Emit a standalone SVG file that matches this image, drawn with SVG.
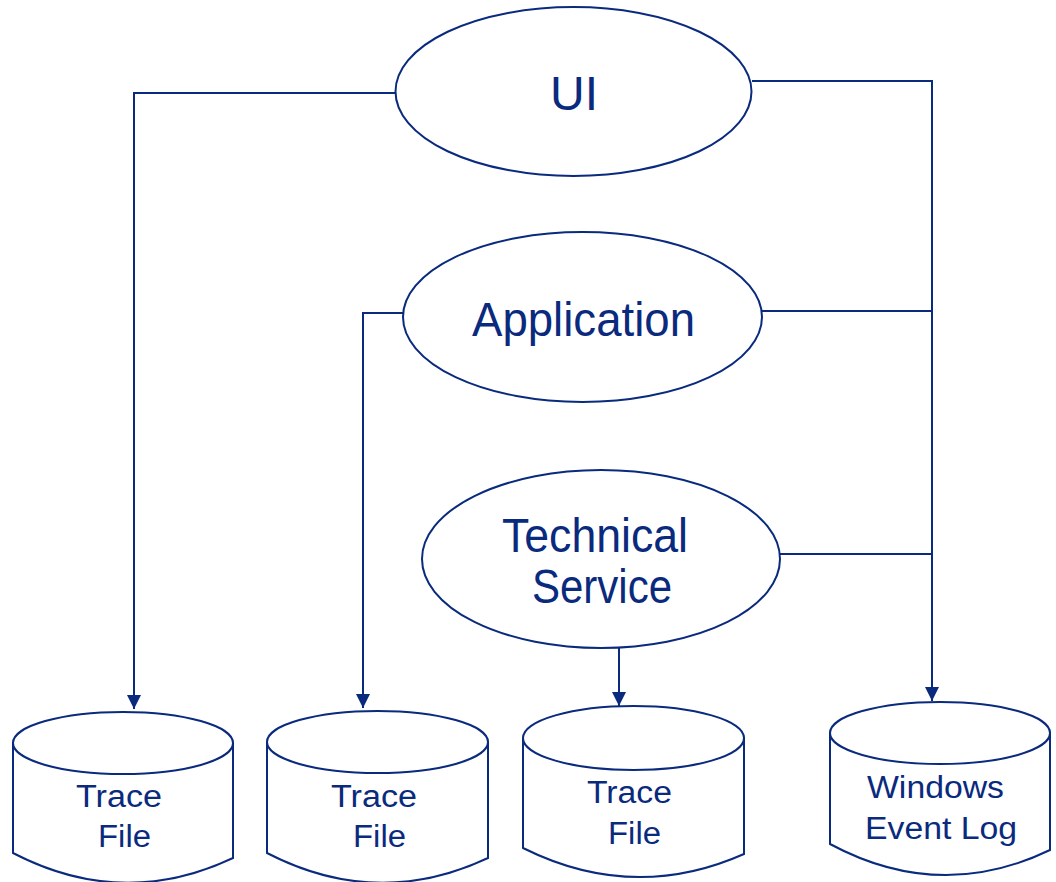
<svg xmlns="http://www.w3.org/2000/svg" width="1056" height="882" viewBox="0 0 1056 882">
<defs>
<style>
.shape{fill:#fff;stroke:#0a2a7e;stroke-width:2}
.conn{fill:none;stroke:#0a2a7e;stroke-width:2}
.t{font-family:"Liberation Sans",Arial,sans-serif;fill:#0a2a7e;text-anchor:middle}
.big{font-size:48px}
.small{font-size:31px}
</style>
<marker id="arr" markerUnits="userSpaceOnUse" markerWidth="14" markerHeight="14" refX="14" refY="7" orient="auto">
<path d="M0,0 L14,7 L0,14 Z" fill="#0a2a7e"/>
</marker>
</defs>
<rect width="1056" height="882" fill="#fff"/>
<g id="connectors">
<polyline class="conn" points="395,93 134,93 134,709" marker-end="url(#arr)"/>
<polyline class="conn" points="752,81 932,81 932,701" marker-end="url(#arr)"/>
<polyline class="conn" points="407,313 363,313 363,708" marker-end="url(#arr)"/>
<polyline class="conn" points="762,311 932,311"/>
<polyline class="conn" points="780,554 932,554"/>
<polyline class="conn" points="619,648 619,706" marker-end="url(#arr)"/>
</g>
<g id="ui">
<ellipse class="shape" cx="573.5" cy="91.5" rx="178" ry="84.5"/>
<text class="t big" x="574" y="110">UI</text>
</g>
<g id="application">
<ellipse class="shape" cx="582.5" cy="317" rx="179.5" ry="85"/>
<text class="t big" x="583.5" y="336" textLength="223" lengthAdjust="spacingAndGlyphs">Application</text>
</g>
<g id="technical-service">
<ellipse class="shape" cx="601" cy="559" rx="179" ry="89"/>
<text class="t big" x="595" y="552" textLength="186" lengthAdjust="spacingAndGlyphs">Technical</text>
<text class="t big" x="602" y="603" textLength="140" lengthAdjust="spacingAndGlyphs">Service</text>
</g>
<g id="trace-file-1">
<path class="shape" d="M13,743 L13,853 Q123,910 233,858 L233,743 Z"/>
<ellipse class="shape" cx="123" cy="743" rx="110" ry="31"/>
<text class="t small" x="119" y="807" textLength="86" lengthAdjust="spacingAndGlyphs">Trace</text>
<text class="t small" x="124.5" y="847" textLength="53" lengthAdjust="spacingAndGlyphs">File</text>
</g>
<g id="trace-file-2">
<path class="shape" d="M267,742 L267,853 Q377.5,910 488,858 L488,742 Z"/>
<ellipse class="shape" cx="377.5" cy="742" rx="110.5" ry="31"/>
<text class="t small" x="374" y="807" textLength="86" lengthAdjust="spacingAndGlyphs">Trace</text>
<text class="t small" x="379.5" y="847" textLength="53" lengthAdjust="spacingAndGlyphs">File</text>
</g>
<g id="trace-file-3">
<path class="shape" d="M523,738 L523,848 Q633.5,903 744,854 L744,738 Z"/>
<ellipse class="shape" cx="633.5" cy="738" rx="110.5" ry="32"/>
<text class="t small" x="629.5" y="803" textLength="85" lengthAdjust="spacingAndGlyphs">Trace</text>
<text class="t small" x="634.5" y="844" textLength="53" lengthAdjust="spacingAndGlyphs">File</text>
</g>
<g id="windows-event-log">
<path class="shape" d="M830,733 L830,844 Q940,903 1050,850 L1050,733 Z"/>
<ellipse class="shape" cx="940" cy="733" rx="110" ry="31"/>
<text class="t small" x="935.5" y="798" textLength="137" lengthAdjust="spacingAndGlyphs">Windows</text>
<text class="t small" x="941" y="839" textLength="152" lengthAdjust="spacingAndGlyphs">Event Log</text>
</g>
</svg>
